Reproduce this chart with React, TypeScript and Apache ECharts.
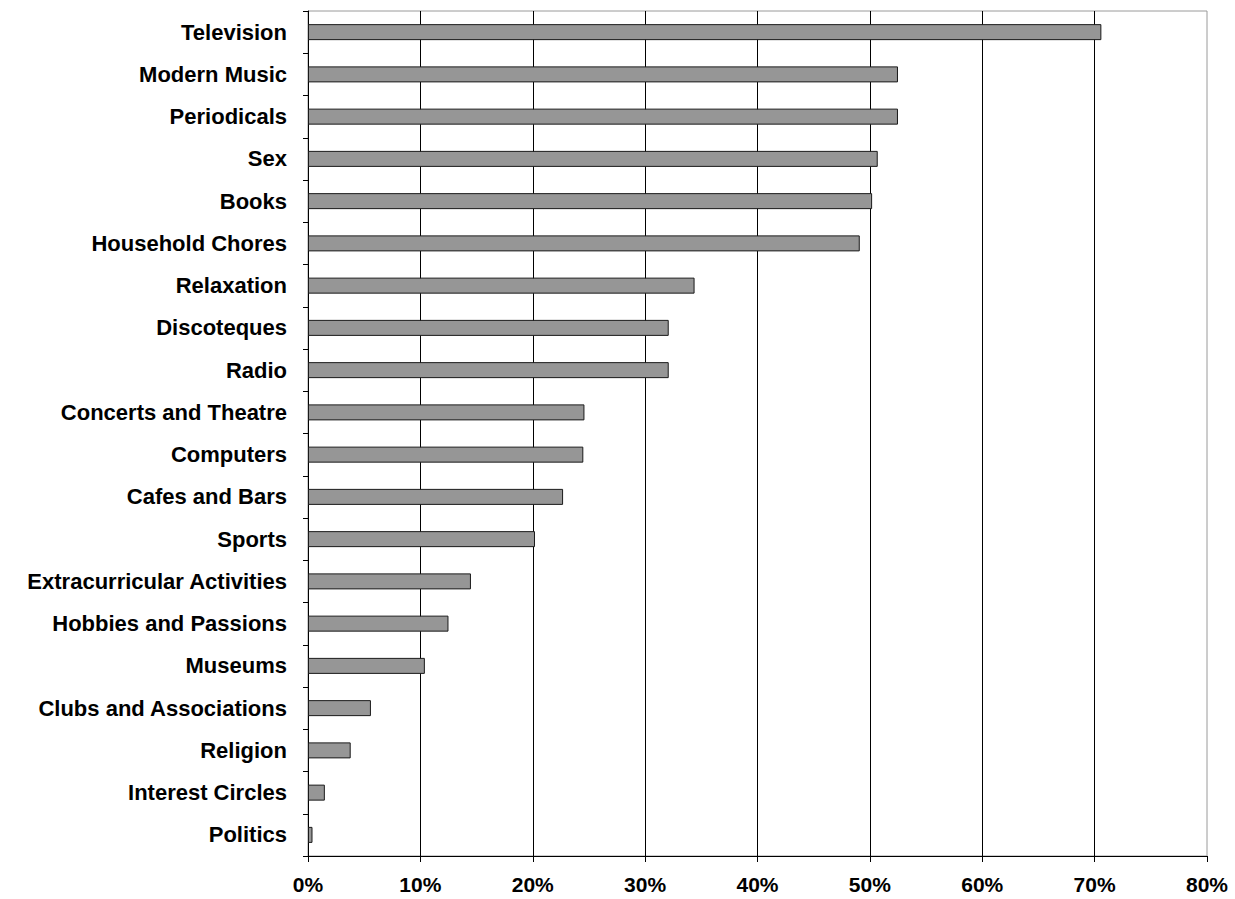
import React, { useEffect, useRef } from "react";
import * as echarts from "echarts";

// Leisure activities, share of respondents (%)
const categories: string[] = [
  "Television",
  "Modern Music",
  "Periodicals",
  "Sex",
  "Books",
  "Household Chores",
  "Relaxation",
  "Discoteques",
  "Radio",
  "Concerts and Theatre",
  "Computers",
  "Cafes and Bars",
  "Sports",
  "Extracurricular Activities",
  "Hobbies and Passions",
  "Museums",
  "Clubs and Associations",
  "Religion",
  "Interest Circles",
  "Politics",
];

const shares: number[] = [
  70.6, 52.5, 52.5, 50.7, 50.2, 49.1, 34.4, 32.1, 32.1, 24.6, 24.5, 22.7, 20.2,
  14.5, 12.5, 10.4, 5.6, 3.8, 1.5, 0.4,
];

const axisMin = 0;
const axisMax = 80;
const axisStep = 10;

const FONT = '"Liberation Sans", Arial, Helvetica, sans-serif';

export default function App() {
  const ref = useRef<HTMLDivElement>(null);

  useEffect(() => {
    if (!ref.current) return;
    const chart = echarts.init(ref.current, undefined, { renderer: "svg" });
    chart.setOption({
      animation: false,
      backgroundColor: "#ffffff",
      grid: {
        left: 308,
        right: 28,
        top: 11,
        bottom: 43,
        containLabel: false,
        outerBoundsMode: "none",
        show: true,
        borderColor: "#9a9a9a",
        borderWidth: 1,
        backgroundColor: "transparent",
      },
      xAxis: {
        type: "value",
        min: axisMin,
        max: axisMax,
        interval: axisStep,
        axisLine: { show: true, lineStyle: { color: "#000", width: 1 } },
        axisTick: {
          show: true,
          inside: false,
          length: 6,
          lineStyle: { color: "#000", width: 1 },
        },
        splitLine: {
          show: true,
          showMinLine: false,
          showMaxLine: false,
          lineStyle: { color: "#000", width: 1 },
        },
        axisLabel: {
          formatter: "{value}%",
          color: "#000",
          fontFamily: FONT,
          fontWeight: "bold",
          fontSize: 21,
          margin: 18,
        },
      },
      yAxis: {
        type: "category",
        inverse: true,
        data: categories,
        axisLine: { show: true, lineStyle: { color: "#000", width: 1 } },
        axisTick: {
          show: true,
          inside: false,
          alignWithLabel: false,
          length: 5,
          lineStyle: { color: "#000", width: 1 },
        },
        splitLine: { show: false },
        axisLabel: {
          color: "#000",
          fontFamily: FONT,
          fontWeight: "bold",
          fontSize: 22,
          margin: 21,
          interval: 0,
        },
      },
      series: [
        {
          type: "bar",
          data: shares,
          barWidth: 16,
          itemStyle: {
            color: "#969696",
            borderColor: "#1a1a1a",
            borderWidth: 1,
          },
          silent: true,
        },
      ],
    });
    return () => chart.dispose();
  }, []);

  return (
    <div
      ref={ref}
      style={{
        position: "fixed",
        left: 0,
        top: 0,
        width: 1235,
        height: 899,
        background: "#fff",
      }}
    />
  );
}
